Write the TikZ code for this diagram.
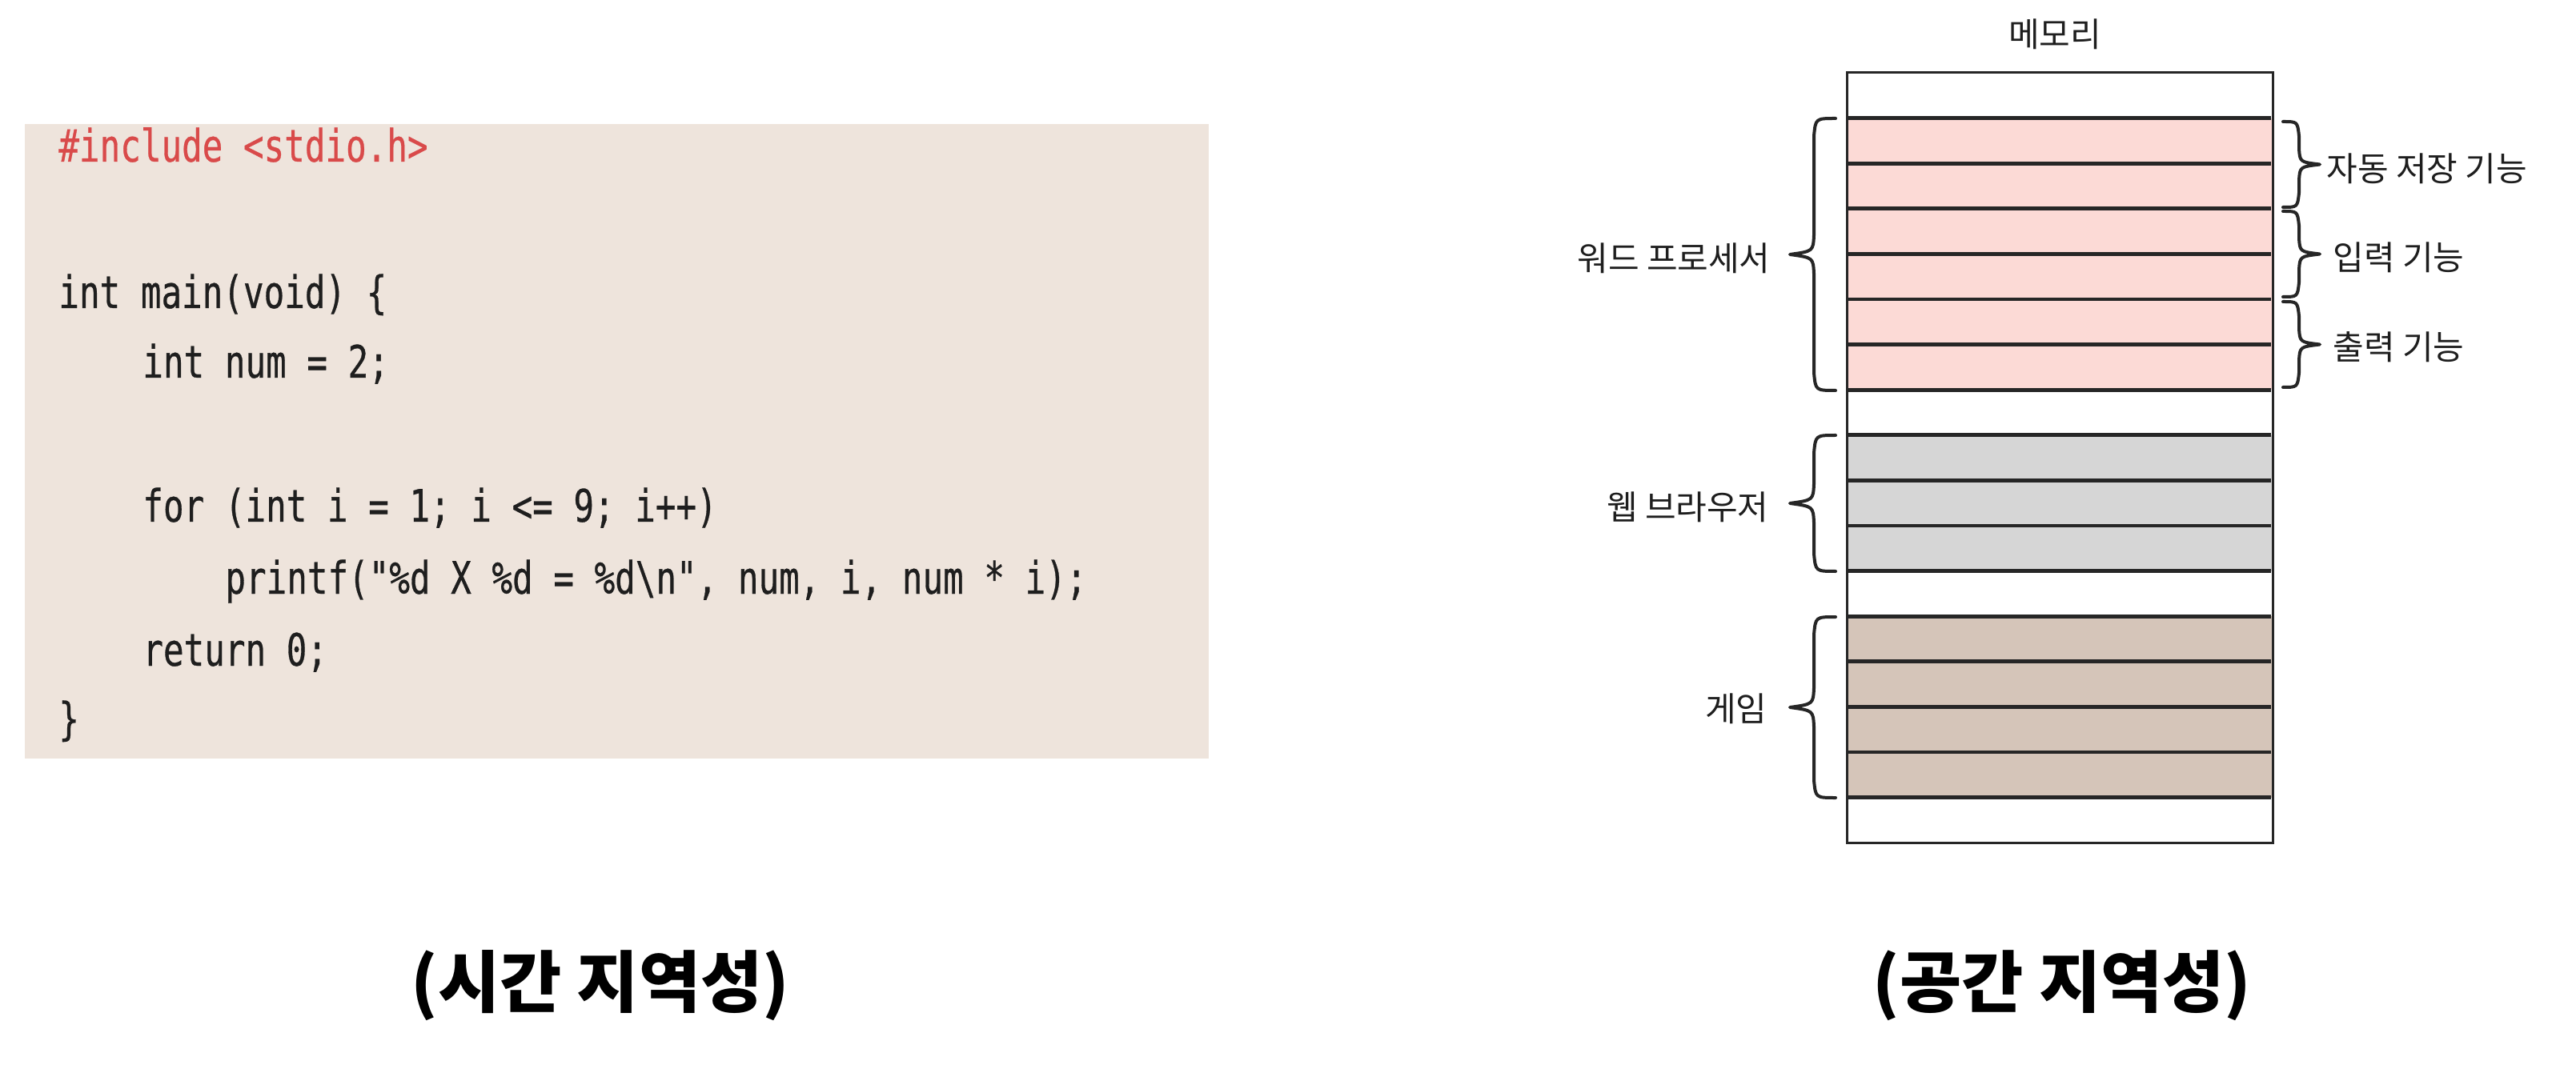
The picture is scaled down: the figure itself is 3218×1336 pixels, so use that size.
\documentclass[tikz,border=0pt]{standalone}
\usepackage{fontspec}
\newfontfamily\codefont{DejaVu Sans Mono}[FakeStretch=0.76,FakeBold=0.5,Ligatures=TeXOff]
\newfontfamily\krfont{Noto Sans CJK KR}
\definecolor{codebg}{HTML}{EEE4DC}
\definecolor{codered}{HTML}{D94A4A}
\definecolor{codeink}{HTML}{1E1E1E}
\definecolor{pinkrow}{HTML}{FCDAD6}
\definecolor{grayrow}{HTML}{D6D6D6}
\definecolor{brownrow}{HTML}{D5C5B9}
\definecolor{inkline}{HTML}{262626}
\tikzset{
  codeline/.style={anchor=base west, inner sep=0pt, text=codeink,
    font=\codefont\fontsize{28pt}{32pt}\selectfont},
  caption/.style={inner sep=0pt, font=\krfont\bfseries\fontsize{42pt}{48pt}\selectfont},
  lbl/.style={inner sep=0pt, font=\krfont\fontsize{21pt}{25pt}\selectfont, text=codeink},
  rowline/.style={draw=inkline, line width=2.4pt},
  boxline/.style={draw=inkline, line width=1.5pt},
  brc/.style={draw=inkline, line width=2pt, line cap=round, line join=round},
}
% left brace: #1 top y, #2 bottom y
\newcommand{\brcLeft}[2]{%
  \pgfmathsetmacro{\mm}{(#1+#2)/2}%
  \draw[brc] (2293,#1) .. controls (2268,#1) .. (2266,#1+22)
    -- (2266,\mm-24) .. controls (2265,\mm-4) .. (2236,\mm)
    .. controls (2265,\mm+4) .. (2266,\mm+24)
    -- (2266,#2-22) .. controls (2268,#2) .. (2293,#2);}
% right brace
\newcommand{\brcRight}[2]{%
  \pgfmathsetmacro{\mm}{(#1+#2)/2}%
  \draw[brc] (2852,#1) .. controls (2870,#1) .. (2872,#1+18)
    -- (2872,\mm-20) .. controls (2873,\mm-3) .. (2898,\mm)
    .. controls (2873,\mm+3) .. (2872,\mm+20)
    -- (2872,#2-18) .. controls (2870,#2) .. (2852,#2);}
\begin{document}
\begin{tikzpicture}[x=0.5pt,y=-0.5pt]
\useasboundingbox (0,0) rectangle (3218,1336);
\fill[white] (0,0) rectangle (3218,1336);

% ---------- code panel ----------
\fill[codebg] (31,155) rectangle (1510,948);
\node[codeline, text=codered] (l1) at (73,202) {\#include <stdio.h>};
\node[codeline] (l2) at (73,385) {int main(void) \{};
\node[codeline] (l3) at (178,472) {int num = 2;};
\node[codeline] (l4) at (178,652) {for (int i = 1; i <= 9; i++)};
\node[codeline] (l5) at (281,742) {printf("\%d X \%d = \%d\textbackslash n", num, i, num * i);};
\node[codeline] (l6) at (178,832) {return 0;};
\node[codeline] (l7) at (73,918) {\}};

% ---------- memory ----------
\def\rh{56.6}
\fill[pinkrow]  (2307,{91+1*\rh}) rectangle (2839,{91+7*\rh});
\fill[grayrow]  (2307,{91+8*\rh}) rectangle (2839,{91+11*\rh});
\fill[brownrow] (2307,{91+12*\rh}) rectangle (2839,{91+16*\rh});
\foreach \i in {1,...,16} {
  \draw[rowline] (2309,{91+\i*\rh}) -- (2837,{91+\i*\rh});
}
\draw[boxline] (2307,91) rectangle (2839,{91+17*\rh});
\node[lbl] (mem) at (2567,43) {메모리};

% braces left
\brcLeft{148}{488}
\brcLeft{544}{714}
\brcLeft{771}{997}
% braces right
\brcRight{152}{259}
\brcRight{264}{371}
\brcRight{377}{484}

\node[lbl, anchor=east] (wp) at (2212,323) {워드 프로세서};
\node[lbl, anchor=east] (wb) at (2210,634) {웹 브라우저};
\node[lbl, anchor=east] (gm) at (2208,886) {게임};
\node[lbl, anchor=west] (f1) at (2906,211) {자동 저장 기능};
\node[lbl, anchor=west] (f2) at (2914,322) {입력 기능};
\node[lbl, anchor=west] (f3) at (2914,434) {출력 기능};

% ---------- captions ----------
\node[caption] (c1) at (750,1232) {(시간 지역성)};
\node[caption] (c2) at (2576,1232) {(공간 지역성)};
\end{tikzpicture}
\end{document}
